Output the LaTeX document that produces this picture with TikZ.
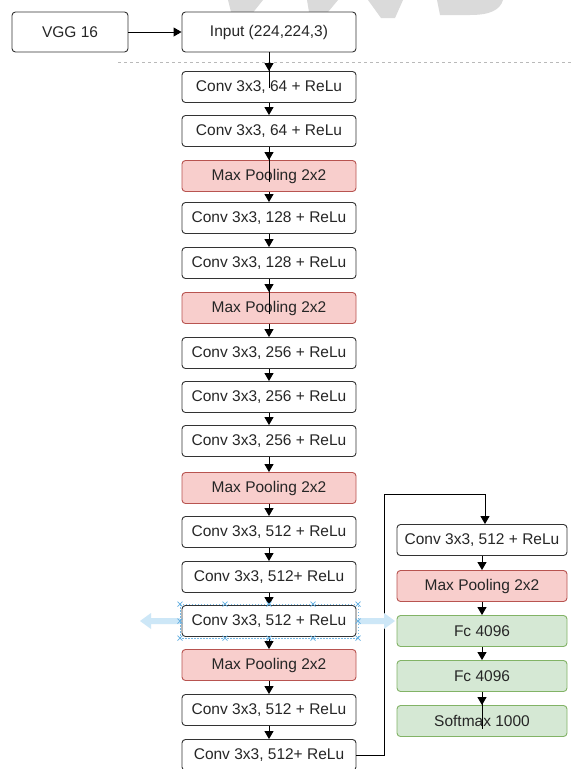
\documentclass[tikz,border=0pt]{standalone}
\usepackage{fontspec}
\setmainfont{Liberation Sans}
\usetikzlibrary{arrows.meta}
\definecolor{poolfill}{HTML}{F8CECC}
\definecolor{pooldraw}{HTML}{B85450}
\definecolor{fcfill}{HTML}{D5E8D4}
\definecolor{fcdraw}{HTML}{82B366}
\definecolor{selblue}{HTML}{3A9AD9}
\definecolor{hintblue}{HTML}{CDE7F7}
\definecolor{wmark}{HTML}{DADADA}
\tikzset{
  layer/.style={draw=black!80, fill=white, rounded corners=3.5pt, line width=0.9pt,
    minimum width=174pt, minimum height=31pt, inner sep=0pt, text=black!85,
    font=\fontsize{15.5}{17}\selectfont},
  rlayer/.style={layer, minimum width=170pt},
  pool/.style={fill=poolfill, draw=pooldraw},
  fc/.style={fill=fcfill, draw=fcdraw},
  flow/.style={line width=0.9pt, black, -{Triangle[length=8pt,width=9pt]}},
  plain/.style={line width=0.9pt, black}
}
\begin{document}
\begin{tikzpicture}[x=1pt,y=-1pt]
\useasboundingbox (0,0) rectangle (571,769);
\fill[white] (0,0) rectangle (571,769);

% faint watermark strokes along the top edge
\fill[wmark] (228,0) -- (263,0) -- (247,20) -- (233,20) -- cycle;
\fill[wmark] (307,0) -- (338,0) -- (323,18) -- (310,18) -- cycle;
\fill[wmark] (368,0) -- (403,0) -- (395,18) -- (381,18) -- cycle;
\fill[wmark] (437,0) -- (503,0) .. controls (500,10) and (490,15) .. (470,15) -- (440,15) -- cycle;

% dashed separator
\draw[gray!55, line width=0.8pt, dash pattern=on 3pt off 3pt] (118,62) -- (571,62);

% header
\node[layer, minimum width=116pt, minimum height=40pt] (vgg) at (70,32) {VGG 16};
\node[layer, minimum height=40pt] (inp) at (269,32) {Input (224,224,3)};

% main column
\node[layer] (l1) at (269,87) {Conv 3x3, 64 + ReLu};
\node[layer] (l2) at (269,131) {Conv 3x3, 64 + ReLu};
\node[layer,pool] (p1) at (269,176) {Max Pooling 2x2};
\node[layer] (l3) at (269,218) {Conv 3x3, 128 + ReLu};
\node[layer] (l4) at (269,263) {Conv 3x3, 128 + ReLu};
\node[layer,pool] (p2) at (269,308) {Max Pooling 2x2};
\node[layer] (l5) at (269,353) {Conv 3x3, 256 + ReLu};
\node[layer] (l6) at (269,397) {Conv 3x3, 256 + ReLu};
\node[layer] (l7) at (269,441) {Conv 3x3, 256 + ReLu};
\node[layer,pool] (p3) at (269,488) {Max Pooling 2x2};
\node[layer] (l8) at (269,532) {Conv 3x3, 512 + ReLu};
\node[layer] (l9) at (269,577) {Conv 3x3, 512+ ReLu};
\node[layer] (l10) at (269,621) {Conv 3x3, 512 + ReLu};
\node[layer,pool] (p4) at (269,665) {Max Pooling 2x2};
\node[layer] (l11) at (269,710) {Conv 3x3, 512 + ReLu};
\node[layer] (l12) at (269,755) {Conv 3x3, 512+ ReLu};

% right column
\node[rlayer] (r1) at (482,540) {Conv 3x3, 512 + ReLu};
\node[rlayer,pool] (r2) at (482,586) {Max Pooling 2x2};
\node[rlayer,fc] (r3) at (482,631) {Fc 4096};
\node[rlayer,fc] (r4) at (482,676) {Fc 4096};
\node[rlayer,fc] (r5) at (482,721) {Softmax 1000};

% connectors
\draw[flow] (vgg) -- (inp);
\foreach \a/\b in {inp/l1, l1/l2, l2/p1, p1/l3, l3/l4, l4/p2, p2/l5, l5/l6, l6/l7,
                   l7/p3, p3/l8, l8/l9, l9/l10, l10/p4, p4/l11, l11/l12,
                   r1/r2, r2/r3, r3/r4, r4/r5}
  \draw[flow] (\a.south) -- (\b.north);
% lines that run on into the box below
\draw[plain] (inp.south) -- ([yshift=-17pt]l1.north);
\draw[plain] (l2.south) -- ([yshift=-22pt]p1.north);
\draw[plain] (l4.south) -- ([yshift=-22pt]p2.north);
\draw[plain] (r4.south) -- ([yshift=-24pt]r5.north);

% jump to the right column
\coordinate (turn) at (384,494);
\coordinate (drop) at (485,494);
\draw[plain] (l12.east) -| (turn) -- (drop);
\draw[flow] (drop) -- (drop |- r1.north);

% selection handles around one layer
\fill[hintblue] (140,621) -- (151,613) -- (151,618) -- (180,618) -- (180,624) -- (151,624) -- (151,629) -- cycle;
\fill[hintblue] (395,621) -- (384,613) -- (384,618) -- (358,618) -- (358,624) -- (384,624) -- (384,629) -- cycle;
\draw[selblue!70, line width=0.6pt, dash pattern=on 1.5pt off 1.5pt] (180,604) rectangle (358,638);
\foreach \px in {180,225,269,313,358}
  \foreach \py in {604,638}
    \draw[selblue!80, line width=0.7pt] (\px-2.5,\py-2.5) -- (\px+2.5,\py+2.5) (\px-2.5,\py+2.5) -- (\px+2.5,\py-2.5);
\foreach \px in {180,358}
  \draw[selblue!80, line width=0.7pt] (\px-2.5,618.5) -- (\px+2.5,623.5) (\px-2.5,623.5) -- (\px+2.5,618.5);
\end{tikzpicture}
\end{document}
